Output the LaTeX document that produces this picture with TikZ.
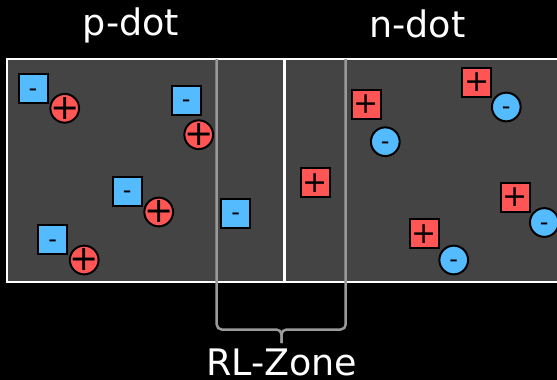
\documentclass[tikz,border=0pt]{standalone}
\usepackage{fontspec}
\setmainfont{DejaVu Sans}
\definecolor{dotgray}{HTML}{444444}
\definecolor{zonegray}{HTML}{9A9A9A}
\definecolor{qblue}{HTML}{55BBFF}
\definecolor{qred}{HTML}{FF5555}
\tikzset{
  sq/.style={rectangle, draw=black, line width=2pt, minimum size=29pt, inner sep=0pt},
  rd/.style={circle, draw=black, line width=2pt, minimum size=28.7pt, inner sep=0pt},
  bsq/.style={sq, fill=qblue, label={[font=\fontsize{24}{24}\selectfont, inner sep=0pt]center:\vphantom{+}-}},
  rsq/.style={sq, fill=qred, label={[font=\fontsize{30}{30}\selectfont, inner sep=0pt]center:+}},
  bcirc/.style={rd, fill=qblue, label={[font=\fontsize{24}{24}\selectfont, inner sep=0pt]center:\vphantom{+}-}},
  rcirc/.style={rd, fill=qred, label={[font=\fontsize{35}{35}\selectfont, inner sep=0pt]center:+}},
  title/.style={text=white, inner sep=0pt, anchor=base, font=\fontsize{36.5}{36.5}\selectfont},
}
\begin{document}
\begin{tikzpicture}[x=1pt, y=-1pt]
  \useasboundingbox (0,0) rectangle (557,380);
  \clip (0,0) rectangle (557,380);
  \fill[black] (0,0) rectangle (557,380);

  % the two quantum dots
  \draw[white, line width=2.5pt, fill=dotgray] (7,59) rectangle (600,282);

  % RL-zone bracket
  \draw[zonegray, line width=2.5pt, rounded corners=5pt]
    (216.7,59) -- (216.7,329.5) -- (281.5,329.5) -- (281.5,343);
  \draw[zonegray, line width=2.5pt, rounded corners=5pt]
    (345.7,59) -- (345.7,329.5) -- (281.5,329.5) -- (281.5,343);

  % junction between the dots
  \draw[white, line width=2.5pt] (284.5,59) -- (284.5,282);

  % p-dot: electrons and holes
  \node[bsq]   (pe1) at (33,88.7)   {};
  \node[rcirc] (ph1) at (64.7,108.3) {};
  \node[bsq]   (pe2) at (186.2,100.3) {};
  \node[rcirc] (ph2) at (198.7,134.7) {};
  \node[bsq]   (pe3) at (127.3,191.3) {};
  \node[rcirc] (ph3) at (158.7,212) {};
  \node[bsq]   (pe4) at (52.8,239.7) {};
  \node[rcirc] (ph4) at (84.2,260) {};
  \node[bsq]   (pe5) at (235.8,213.3) {};

  % n-dot: holes and electrons
  \node[rsq]   (nh5) at (315.3,182.8) {};
  \node[rsq]   (nh1) at (366.3,104.2) {};
  \node[bcirc] (ne1) at (385.3,141.7) {};
  \node[rsq]   (nh2) at (476.8,82.3) {};
  \node[bcirc] (ne2) at (506.3,107) {};
  \node[rsq]   (nh3) at (515.2,197.5) {};
  \node[bcirc] (ne3) at (544.3,222.5) {};
  \node[rsq]   (nh4) at (424.5,233.8) {};
  \node[bcirc] (ne4) at (453.7,260) {};

  % labels
  \node[title] (plabel) at (131,35) {p-dot};
  \node[title] (nlabel) at (417.5,37.7) {n-dot};
  \node[title] (zlabel) at (281.7,375.5) {RL-Zone};
\end{tikzpicture}
\end{document}
